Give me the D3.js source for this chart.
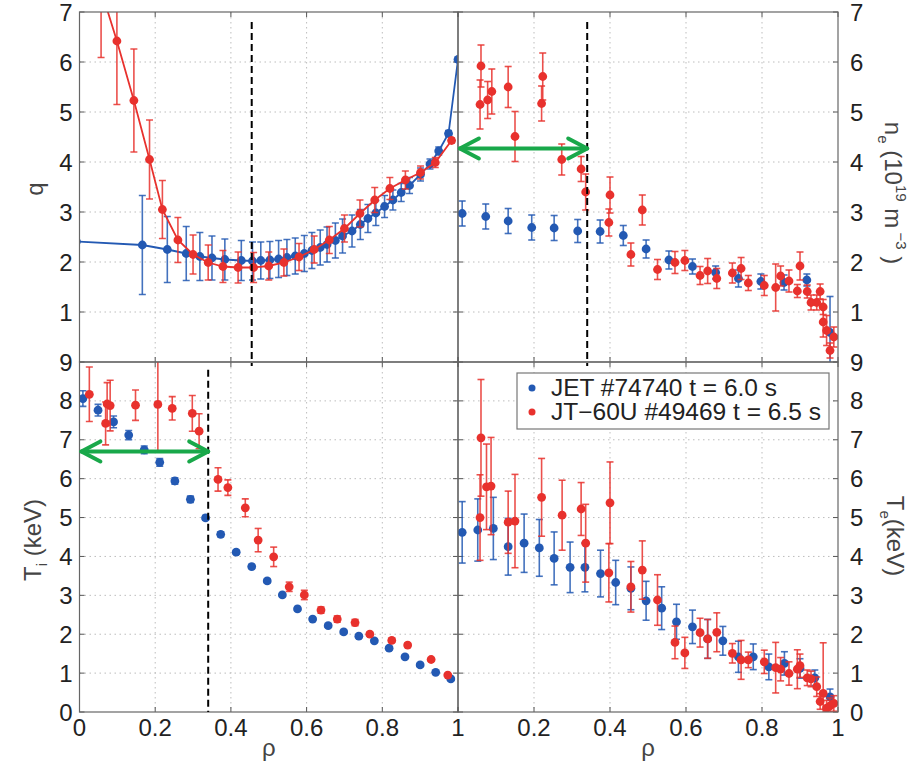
<!DOCTYPE html>
<html>
<head>
<meta charset="utf-8">
<script src="https://cdn.jsdelivr.net/npm/d3@7"></script>
<style>
  body { margin: 0; background: #fff; }
  svg { display: block; font-family: "Liberation Sans", Arial, sans-serif; }
</style>
</head>
<body>
<svg id="chart" width="921" height="766"></svg>
<script>
// [rho, value, error]
const qJet = [
  [-0.008, 2.41, 1.95], [0.166, 2.34, 0.99], [0.232, 2.25, 0.66], [0.282, 2.17, 0.54],
  [0.318, 2.11, 0.48], [0.35, 2.08, 0.44], [0.384, 2.05, 0.41], [0.4275, 2.03, 0.4],
  [0.457, 2.02, 0.38], [0.479, 2.03, 0.37], [0.503, 2.04, 0.37], [0.526, 2.06, 0.37],
  [0.548, 2.09, 0.36], [0.57, 2.12, 0.36], [0.594, 2.17, 0.36], [0.614, 2.23, 0.36],
  [0.636, 2.29, 0.35], [0.654, 2.35, 0.35], [0.676, 2.43, 0.35], [0.695, 2.52, 0.34],
  [0.72, 2.62, 0.32], [0.742, 2.75, 0.3], [0.762, 2.87, 0.28], [0.783, 2.98, 0.25],
  [0.806, 3.11, 0.22], [0.828, 3.24, 0.2], [0.85, 3.39, 0.18], [0.872, 3.53, 0.16],
  [0.901, 3.75, 0.13], [0.926, 3.96, 0.1], [0.949, 4.22, 0.08], [0.975, 4.57, 0.06],
  [1.0, 6.05, 0.05]
];
const qJt60 = [
  [0.057, 7.44, 1.35], [0.0988, 6.42, 1.27], [0.1437, 5.23, 1.03], [0.185, 4.05, 0.79],
  [0.219, 3.05, 0.58], [0.26, 2.44, 0.45], [0.3, 2.15, 0.39], [0.34, 1.99, 0.35],
  [0.379, 1.91, 0.32], [0.419, 1.89, 0.31], [0.46, 1.89, 0.3], [0.5, 1.92, 0.28],
  [0.54, 1.99, 0.27], [0.58, 2.1, 0.27], [0.62, 2.25, 0.27], [0.66, 2.44, 0.27],
  [0.7, 2.67, 0.27], [0.741, 2.97, 0.27], [0.78, 3.24, 0.25], [0.82, 3.47, 0.22],
  [0.861, 3.64, 0.18], [0.901, 3.79, 0.13], [0.94, 3.99, 0.1], [0.983, 4.43, 0.05]
];
const neJet = [
  [0.011, 2.97, 0.25], [0.073, 2.91, 0.25], [0.132, 2.82, 0.25], [0.194, 2.69, 0.25],
  [0.253, 2.68, 0.25], [0.315, 2.62, 0.23], [0.374, 2.61, 0.23], [0.435, 2.53, 0.2],
  [0.495, 2.26, 0.18], [0.555, 2.04, 0.18], [0.617, 1.91, 0.15], [0.678, 1.79, 0.13],
  [0.738, 1.67, 0.17], [0.797, 1.61, 0.15], [0.858, 1.59, 0.15], [0.918, 1.64, 0.12],
  [0.979, 0.59, 0.72]
];
const neJt60 = [
  [0.0605, 5.92, 0.42], [0.058, 5.15, 0.49], [0.078, 5.24, 0.37], [0.089, 5.41, 0.45],
  [0.132, 5.5, 0.41], [0.15, 4.51, 0.5], [0.22, 5.17, 0.35], [0.223, 5.71, 0.47],
  [0.273, 4.05, 0.31], [0.324, 3.86, 0.25], [0.336, 3.4, 0.36], [0.4, 3.34, 0.36],
  [0.397, 2.79, 0.27], [0.455, 2.15, 0.23], [0.485, 3.04, 0.3], [0.525, 1.85, 0.2],
  [0.571, 1.99, 0.22], [0.597, 2.03, 0.2], [0.637, 1.73, 0.18], [0.657, 1.82, 0.25],
  [0.681, 1.67, 0.2], [0.722, 1.78, 0.2], [0.745, 1.87, 0.22], [0.764, 1.58, 0.15],
  [0.806, 1.53, 0.2], [0.836, 1.49, 0.47], [0.849, 1.72, 0.2], [0.871, 1.62, 0.22],
  [0.893, 1.42, 0.13], [0.9, 1.92, 0.28], [0.919, 1.41, 0.13], [0.929, 1.19, 0.15],
  [0.944, 1.19, 0.15], [0.953, 1.41, 0.15], [0.961, 1.1, 0.15], [0.961, 0.8, 0.3],
  [0.97, 0.63, 0.3], [0.979, 0.23, 0.15], [0.989, 0.5, 0.2]
];
const tiJet = [
  [0.009, 8.06, 0.2], [0.049, 7.76, 0.15], [0.09, 7.46, 0.15], [0.13, 7.12, 0.12],
  [0.171, 6.74, 0.1], [0.212, 6.42, 0.1], [0.252, 5.94, 0.08], [0.293, 5.47, 0.08],
  [0.333, 4.99, 0.06], [0.373, 4.57, 0.06], [0.414, 4.11, 0.05], [0.455, 3.74, 0.05],
  [0.496, 3.37, 0.05], [0.536, 3.01, 0.04], [0.576, 2.65, 0.04], [0.616, 2.39, 0.04],
  [0.657, 2.22, 0.04], [0.698, 2.06, 0.04], [0.738, 1.95, 0.04], [0.779, 1.83, 0.04],
  [0.818, 1.64, 0.04], [0.86, 1.42, 0.04], [0.9, 1.21, 0.04], [0.941, 1.02, 0.04],
  [0.981, 0.85, 0.04]
];
const tiJt60 = [
  [0.026, 8.17, 0.7], [0.069, 7.42, 0.55], [0.073, 7.92, 0.55], [0.081, 7.88, 0.65],
  [0.148, 7.89, 0.39], [0.207, 7.91, 1.22], [0.245, 7.81, 0.3], [0.298, 7.68, 0.46],
  [0.316, 7.22, 0.45], [0.366, 5.98, 0.3], [0.392, 5.77, 0.2], [0.438, 5.25, 0.23],
  [0.472, 4.42, 0.3], [0.513, 3.99, 0.25], [0.554, 3.22, 0.12], [0.594, 3.01, 0.12],
  [0.638, 2.62, 0.08], [0.681, 2.39, 0.08], [0.728, 2.3, 0.08], [0.767, 2.0, 0.05],
  [0.825, 1.84, 0.05], [0.867, 1.72, 0.05], [0.929, 1.35, 0.04], [0.973, 0.95, 0.03]
];
const teJet = [
  [0.011, 4.62, 0.79], [0.052, 4.68, 0.8], [0.093, 4.72, 0.8], [0.132, 4.25, 0.73],
  [0.174, 4.34, 0.75], [0.214, 4.22, 0.73], [0.253, 3.95, 0.68], [0.295, 3.72, 0.65],
  [0.334, 3.72, 0.63], [0.375, 3.56, 0.6], [0.415, 3.33, 0.57], [0.455, 3.18, 0.55],
  [0.495, 2.86, 0.5], [0.536, 2.67, 0.55], [0.575, 2.32, 0.45], [0.617, 2.19, 0.43],
  [0.657, 1.88, 0.5], [0.697, 1.83, 0.37], [0.738, 1.42, 0.4], [0.777, 1.42, 0.33],
  [0.818, 1.16, 0.33], [0.859, 1.25, 0.3], [0.9, 1.12, 0.25], [0.939, 0.88, 0.2],
  [0.979, 0.39, 0.2]
];
const teJt60 = [
  [0.0605, 7.05, 1.5], [0.058, 5.0, 1.1], [0.075, 5.79, 1.1], [0.087, 5.81, 1.25],
  [0.132, 4.88, 0.8], [0.15, 4.91, 1.2], [0.22, 5.52, 1.0], [0.274, 5.06, 0.9],
  [0.324, 5.22, 0.68], [0.336, 4.34, 1.0], [0.4, 5.38, 1.05], [0.397, 3.58, 0.75],
  [0.455, 3.22, 0.65], [0.485, 3.65, 0.75], [0.525, 2.88, 0.65], [0.571, 1.79, 0.42],
  [0.597, 1.52, 0.4], [0.637, 2.04, 0.37], [0.657, 1.88, 0.5], [0.681, 2.05, 0.5],
  [0.722, 1.51, 0.25], [0.745, 1.34, 0.5], [0.764, 1.34, 0.2], [0.806, 1.29, 0.3],
  [0.836, 1.14, 0.65], [0.849, 1.1, 0.3], [0.871, 0.99, 0.3], [0.893, 1.1, 0.5],
  [0.9, 1.19, 0.3], [0.919, 0.88, 0.2], [0.929, 0.85, 0.2], [0.944, 0.65, 0.25],
  [0.953, 0.27, 0.2], [0.961, 0.48, 1.3], [0.97, 0.1, 0.2], [0.979, 0.16, 0.2],
  [0.989, 0.22, 0.2]
];

const xTicks = [0, 0.2, 0.4, 0.6, 0.8, 1];
const topTicks = [1, 2, 3, 4, 5, 6, 7];
const bottomTicks = [0, 1, 2, 3, 4, 5, 6, 7, 8, 9];
const legendLabels = ['JET #74740 t = 6.0 s', 'JT\u221260U #49469 t = 6.5 s'];

// dashed markers [rho, from value, to value] and green arrows [rho0, rho1, value]
const qDash = [0.455, 6.8, -0.08];
const neDash = [0.34, 6.8, -0.08];
const tiDash = [0.34, 8.8, 0];
const neArrow = [0.005, 0.34, 4.27];
const tiArrow = [0.005, 0.34, 6.7];

const BLUE = '#2359b3';
const RED = '#e8312d';
const GREEN = '#19a84a';

const svg = d3.select( '#chart' );
const colX = [ [ 79.5, 458 ], [ 458, 838 ] ];
const rowY = [ [ 12, 362 ], [ 362, 712 ] ];

const panels = [
  { col: 0, row: 0, yMax: 7, yTicks: topTicks, jet: qJet, jt: qJt60, line: true, dash: qDash },
  { col: 1, row: 0, yMax: 7, yTicks: topTicks, jet: neJet, jt: neJt60, dash: neDash, arrow: neArrow },
  { col: 0, row: 1, yMax: 9, yTicks: bottomTicks, jet: tiJet, jt: tiJt60, dash: tiDash, arrow: tiArrow },
  { col: 1, row: 1, yMax: 9, yTicks: bottomTicks, jet: teJet, jt: teJt60, legend: true },
];

panels.forEach( ( p, i ) => {
  const [ xa, xb ] = colX[ p.col ];
  const [ ya, yb ] = rowY[ p.row ];
  const x = d3.scaleLinear().domain( [ 0, 1 ] ).range( [ xa, xb ] );
  const y = d3.scaleLinear().domain( [ 0, p.yMax ] ).range( [ yb, ya ] );
  const g = svg.append( 'g' );

  svg.append( 'clipPath' ).attr( 'id', 'clip' + i )
    .append( 'rect' ).attr( 'x', xa ).attr( 'y', ya ).attr( 'width', xb - xa ).attr( 'height', yb - ya );

  // grid
  g.selectAll( 'line.gx' ).data( xTicks.slice( 1, -1 ) ).enter().append( 'line' )
    .attr( 'x1', d => x( d ) ).attr( 'x2', d => x( d ) ).attr( 'y1', ya ).attr( 'y2', yb )
    .attr( 'stroke', '#bdbdbd' ).attr( 'stroke-dasharray', '1.5,3.5' );
  g.selectAll( 'line.gy' ).data( p.yTicks.filter( d => d > 0 && d < p.yMax ) ).enter().append( 'line' )
    .attr( 'y1', d => y( d ) ).attr( 'y2', d => y( d ) ).attr( 'x1', xa ).attr( 'x2', xb )
    .attr( 'stroke', '#bdbdbd' ).attr( 'stroke-dasharray', '1.5,3.5' );

  // ticks inward on all sides
  const tk = 5;
  xTicks.forEach( d => {
    g.append( 'line' ).attr( 'x1', x( d ) ).attr( 'x2', x( d ) ).attr( 'y1', yb ).attr( 'y2', yb - tk ).attr( 'stroke', '#555' );
    g.append( 'line' ).attr( 'x1', x( d ) ).attr( 'x2', x( d ) ).attr( 'y1', ya ).attr( 'y2', ya + tk ).attr( 'stroke', '#555' );
  } );
  p.yTicks.forEach( d => {
    g.append( 'line' ).attr( 'y1', y( d ) ).attr( 'y2', y( d ) ).attr( 'x1', xa ).attr( 'x2', xa + tk ).attr( 'stroke', '#555' );
    g.append( 'line' ).attr( 'y1', y( d ) ).attr( 'y2', y( d ) ).attr( 'x1', xb ).attr( 'x2', xb - tk ).attr( 'stroke', '#555' );
  } );

  // data
  const dg = g.append( 'g' ).attr( 'clip-path', `url(#clip${ i })` );
  [ [ p.jet, BLUE ], [ p.jt, RED ] ].forEach( ( [ data, color ] ) => {
    if ( p.line ) {
      dg.append( 'path' ).datum( data )
        .attr( 'd', d3.line().x( d => x( d[ 0 ] ) ).y( d => y( d[ 1 ] ) ) )
        .attr( 'fill', 'none' ).attr( 'stroke', color ).attr( 'stroke-width', 1.8 );
    }
    const pts = dg.selectAll( null ).data( data ).enter().append( 'g' ).attr( 'stroke', color ).attr( 'stroke-width', 1.6 );
    pts.append( 'line' ).attr( 'x1', d => x( d[ 0 ] ) ).attr( 'x2', d => x( d[ 0 ] ) )
      .attr( 'y1', d => y( d[ 1 ] - d[ 2 ] ) ).attr( 'y2', d => y( d[ 1 ] + d[ 2 ] ) ).attr( 'stroke-opacity', 0.85 );
    [ -1, 1 ].forEach( s => {
      pts.append( 'line' ).attr( 'x1', d => x( d[ 0 ] ) - 3.5 ).attr( 'x2', d => x( d[ 0 ] ) + 3.5 )
        .attr( 'y1', d => y( d[ 1 ] + s * d[ 2 ] ) ).attr( 'y2', d => y( d[ 1 ] + s * d[ 2 ] ) ).attr( 'stroke-opacity', 0.85 );
    } );
    pts.append( 'circle' ).attr( 'cx', d => x( d[ 0 ] ) ).attr( 'cy', d => y( d[ 1 ] ) ).attr( 'r', 4.4 )
      .attr( 'fill', color ).attr( 'stroke', 'none' );
  } );

  // frame
  g.append( 'rect' ).attr( 'x', xa ).attr( 'y', ya ).attr( 'width', xb - xa ).attr( 'height', yb - ya )
    .attr( 'fill', 'none' ).attr( 'stroke', '#666' ).attr( 'stroke-width', 1.2 );

  // y tick labels
  const left = p.col === 0;
  g.selectAll( 'text.yt' ).data( p.yTicks ).enter().append( 'text' )
    .attr( 'x', left ? xa - 7 : xb + 12 ).attr( 'y', d => y( d ) + 8.5 )
    .attr( 'text-anchor', left ? 'end' : 'start' ).attr( 'font-size', 24 ).attr( 'fill', '#222' )
    .text( d => d );

  // x tick labels on the bottom row
  if ( p.row === 1 ) {
    g.selectAll( 'text.xt' ).data( left ? xTicks : xTicks.slice( 1 ) ).enter().append( 'text' )
      .attr( 'x', d => x( d ) ).attr( 'y', 736 ).attr( 'text-anchor', 'middle' )
      .attr( 'font-size', 24 ).attr( 'fill', '#222' ).text( d => d );
    g.append( 'text' ).attr( 'x', ( xa + xb ) / 2 ).attr( 'y', 756 ).attr( 'text-anchor', 'middle' )
      .attr( 'font-size', 24 ).attr( 'fill', '#444' ).text( '\u03c1' );
  }

  // dashed marker
  if ( p.dash ) {
    g.append( 'line' ).attr( 'x1', x( p.dash[ 0 ] ) ).attr( 'x2', x( p.dash[ 0 ] ) )
      .attr( 'y1', y( p.dash[ 1 ] ) ).attr( 'y2', y( p.dash[ 2 ] ) )
      .attr( 'stroke', '#000' ).attr( 'stroke-width', 2 ).attr( 'stroke-dasharray', '7,4' );
  }

  // green double arrow
  if ( p.arrow ) {
    const ax0 = x( p.arrow[ 0 ] ), ax1 = x( p.arrow[ 1 ] ), ay = y( p.arrow[ 2 ] );
    const ag = g.append( 'g' ).attr( 'stroke', GREEN ).attr( 'stroke-width', 4 ).attr( 'fill', 'none' )
      .attr( 'stroke-linecap', 'round' ).attr( 'stroke-linejoin', 'round' );
    ag.append( 'line' ).attr( 'x1', ax0 ).attr( 'x2', ax1 ).attr( 'y1', ay ).attr( 'y2', ay );
    ag.append( 'path' ).attr( 'd', `M${ ax0 + 19 },${ ay - 10 }L${ ax0 },${ ay }L${ ax0 + 19 },${ ay + 10 }` );
    ag.append( 'path' ).attr( 'd', `M${ ax1 - 19 },${ ay - 10 }L${ ax1 },${ ay }L${ ax1 - 19 },${ ay + 10 }` );
  }

  // legend
  if ( p.legend ) {
    const lg = g.append( 'g' );
    lg.append( 'rect' ).attr( 'x', 517 ).attr( 'y', 373 ).attr( 'width', 312 ).attr( 'height', 56 )
      .attr( 'fill', '#fff' ).attr( 'stroke', '#777' ).attr( 'stroke-width', 1.2 );
    [ BLUE, RED ].forEach( ( c, k ) => {
      lg.append( 'circle' ).attr( 'cx', 532 ).attr( 'cy', 388 + k * 24 ).attr( 'r', 3.5 ).attr( 'fill', c );
      lg.append( 'text' ).attr( 'x', 551 ).attr( 'y', 396 + k * 24 ).attr( 'font-size', 23 )
        .attr( 'textLength', k ? 270 : 226 ).attr( 'lengthAdjust', 'spacingAndGlyphs' )
        .attr( 'fill', '#222' ).text( legendLabels[ k ] );
    } );
  }
} );

// axis titles
const title = ( tx, ty, rot ) => svg.append( 'text' )
  .attr( 'transform', `translate(${ tx },${ ty }) rotate(${ rot })` )
  .attr( 'text-anchor', 'middle' ).attr( 'font-size', 24 ).attr( 'fill', '#444' );

title( 43, 189, -90 ).text( 'q' );

const ti = title( 41, 540, -90 );
ti.append( 'tspan' ).text( 'T' );
ti.append( 'tspan' ).attr( 'font-size', 15 ).attr( 'dy', 6 ).text( 'i' );
ti.append( 'tspan' ).attr( 'dy', -6 ).text( ' (keV)' );

const ne = title( 885, 193, 90 );
ne.append( 'tspan' ).text( 'n' );
ne.append( 'tspan' ).attr( 'font-size', 15 ).attr( 'dy', 7 ).text( 'e' );
ne.append( 'tspan' ).attr( 'dy', -7 ).text( ' (10' );
ne.append( 'tspan' ).attr( 'font-size', 15 ).attr( 'dy', -11 ).text( '19' );
ne.append( 'tspan' ).attr( 'dy', 11 ).text( ' m' );
ne.append( 'tspan' ).attr( 'font-size', 15 ).attr( 'dy', -11 ).text( ' \u22123' );
ne.append( 'tspan' ).attr( 'dy', 11 ).text( ' )' );

const te = title( 887, 536, 90 );
te.append( 'tspan' ).text( 'T' );
te.append( 'tspan' ).attr( 'font-size', 15 ).attr( 'dy', 7 ).text( 'e' );
te.append( 'tspan' ).attr( 'dy', -7 ).text( '(keV)' );
</script>
</body>
</html>
